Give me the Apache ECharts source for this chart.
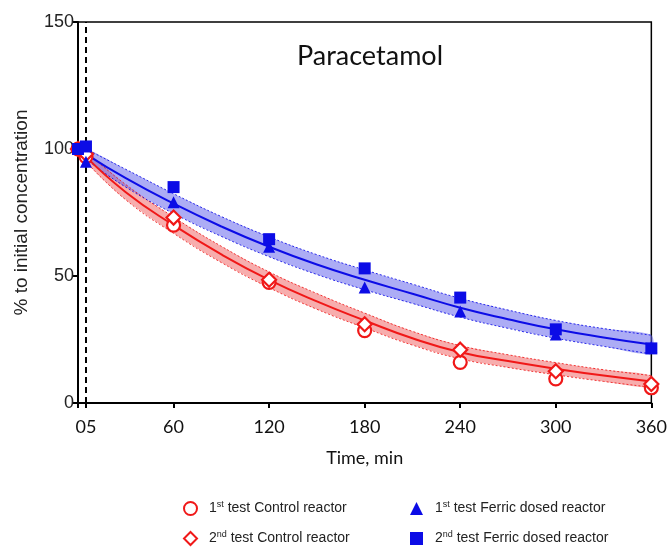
<!DOCTYPE html>
<html>
<head>
<meta charset="utf-8">
<script src="https://cdn.jsdelivr.net/npm/echarts@6/dist/echarts.min.js"></script>
<style>
  html, body { margin: 0; padding: 0; background: #fff; }
  #chart { width: 670px; height: 549px; }
</style>
</head>
<body>
<div id="chart"></div>
<script>
// measured points (% of initial concentration)
const times = [0, 5, 60, 120, 180, 240, 300, 360]
const control1 = [100, 97, 70, 47.5, 28.5, 16, 9.5, 6]
const control2 = [100, 98, 73, 48.5, 31, 21, 12.5, 7.5]
const ferric1 = [100, 95, 79, 61.5, 45.5, 36, 27, 22]
const ferric2 = [100, 101, 85, 64.5, 53, 41.5, 29, 21.5]

// fitted curves and their confidence bands
const fitTimes = [5, 30, 60, 90, 120, 150, 180, 210, 240, 270, 300, 330, 360]
const controlFit = [97, 83, 70, 58.5, 48.5, 40, 32.5, 25.5, 20, 16.5, 13.5, 10.8, 8.5]
const controlLow = [95, 80, 66.8, 55.3, 45.4, 36.9, 29.6, 22.8, 17.4, 14, 11.1, 8.5, 6.2]
const controlHigh = [99, 86, 73.2, 61.7, 51.6, 43.1, 35.4, 28.2, 22.6, 19, 15.9, 13.1, 10.8]
const ferricFit = [98, 88.5, 78.5, 69.5, 61.5, 54.5, 48.5, 43, 37.5, 33, 29, 25.8, 23]
const ferricLow = [96, 85, 74.6, 65.6, 57.6, 50.6, 44.6, 39.2, 33.8, 29.4, 25.5, 22.3, 19.3]
const ferricHigh = [100, 92, 82.4, 73.4, 65.4, 58.4, 52.4, 46.8, 41.2, 36.6, 32.5, 29.3, 26.7]

const xTicks = [0, 5, 60, 120, 180, 240, 300, 360]
const seriesNames = ['1st test Control reactor', '2nd test Control reactor',
  '1st test Ferric dosed reactor', '2nd test Ferric dosed reactor']

const RED = '#f01818'
const BLUE = '#0c0ce6'

const pairs = (xs, ys) => xs.map((x, i) => [x, ys[i]])

// filled confidence band drawn as one polygon through the axis scales
function bandFill(low, high, fill) {
  return {
    type: 'custom', silent: true, z: 1,
    data: [[0]],
    renderItem: (params, api) => {
      const top = fitTimes.map((t, i) => api.coord([t, high[i]]))
      const bottom = fitTimes.map((t, i) => api.coord([t, low[i]])).reverse()
      return {
        type: 'polygon',
        shape: { points: top.concat(bottom), smooth: 0.25 },
        style: { fill: fill, stroke: null }
      }
    }
  }
}

function edgeLine(data, color) {
  return {
    type: 'line', smooth: true, symbol: 'none', silent: true, z: 2,
    data: pairs(fitTimes, data),
    lineStyle: { color: color, width: 1, type: [2, 2], opacity: 0.85 }
  }
}

function fitSeries(data, color) {
  return {
    type: 'line', smooth: true, symbol: 'none', silent: true, z: 3,
    data: pairs(fitTimes, data), lineStyle: { color: color, width: 2 }
  }
}

function pointSeries(name, data, symbol, size, hollow, color) {
  return {
    name: name, type: 'scatter', symbol: symbol, symbolSize: size,
    data: pairs(times, data), z: 5,
    itemStyle: hollow
      ? { color: '#fff', borderColor: color, borderWidth: 2.2, opacity: 1 }
      : { color: color, opacity: 1 }
  }
}

const legendText = {
  fontFamily: 'Liberation Sans, Arial', fontSize: 14, color: '#222',
  lineHeight: 17, padding: [0, 0, 0, 7],
  rich: {
    sup: { fontSize: 9, lineHeight: 17, padding: [0, 0, 8, 0], fontFamily: 'Liberation Sans, Arial' }
  }
}
const legendFormatter = (name) => name.replace(/^(\d)(st|nd)/, '$1{sup|$2}')

const chart = echarts.init(document.getElementById('chart'))

chart.setOption({
  animation: false,
  backgroundColor: '#fff',
  title: {
    text: 'Paracetamol',
    left: 365, top: 38, textAlign: 'center',
    textStyle: { fontFamily: 'Lato', fontWeight: 'normal', fontSize: 27, color: '#111' }
  },
  grid: {
    left: 78, right: 18, top: 22, bottom: 146,
    show: true, borderColor: '#000', borderWidth: 1.5, backgroundColor: 'transparent'
  },
  legend: [
    {
      data: [seriesNames[0], seriesNames[1]],
      orient: 'vertical', left: 178, top: 495, height: 80, itemGap: 13,
      itemWidth: 13, itemHeight: 13, formatter: legendFormatter, textStyle: legendText
    },
    {
      data: [seriesNames[2], seriesNames[3]],
      orient: 'vertical', left: 405, top: 495, height: 80, itemGap: 13,
      itemWidth: 13, itemHeight: 13, formatter: legendFormatter, textStyle: legendText
    }
  ],
  xAxis: {
    type: 'value', min: 0, max: 360,
    name: 'Time, min', nameLocation: 'middle', nameGap: 46,
    nameTextStyle: { fontFamily: 'Lato', fontSize: 18, color: '#111' },
    axisLine: { onZero: false, lineStyle: { color: '#000', width: 2 } },
    axisTick: { customValues: xTicks, length: 5, lineStyle: { color: '#000', width: 2 } },
    axisLabel: {
      customValues: xTicks, margin: 15,
      fontFamily: 'Lato', fontSize: 18, color: '#111',
      // the 0 and 5 labels sit together and read as "05"
      formatter: (v) => (v === 0 ? '' : v === 5 ? '05' : String(v))
    },
    splitLine: { show: false }
  },
  yAxis: {
    type: 'value', min: 0, max: 150, interval: 50,
    name: '% to initial concentration', nameLocation: 'middle', nameGap: 47,
    nameTextStyle: { fontFamily: 'Liberation Sans, Arial', fontSize: 19, color: '#222' },
    axisLine: { show: true, lineStyle: { color: '#000', width: 2 } },
    axisTick: { show: true, length: 5, lineStyle: { color: '#000', width: 2 } },
    axisLabel: { fontFamily: 'Liberation Sans, Arial', fontSize: 18, color: '#222', margin: 4 },
    splitLine: { show: false }
  },
  series: [
    bandFill(controlLow, controlHigh, 'rgba(240,105,105,0.55)'),
    bandFill(ferricLow, ferricHigh, 'rgba(95,95,235,0.52)'),
    edgeLine(controlLow, RED),
    edgeLine(controlHigh, RED),
    edgeLine(ferricLow, BLUE),
    edgeLine(ferricHigh, BLUE),
    fitSeries(controlFit, RED),
    {
      ...fitSeries(ferricFit, BLUE),
      markLine: {
        silent: true, symbol: 'none', label: { show: false },
        lineStyle: { color: '#000', type: [6, 4], width: 2 },
        data: [{ xAxis: 5 }]
      }
    },
    pointSeries(seriesNames[0], control1, 'circle', 13, true, RED),
    pointSeries(seriesNames[1], control2, 'diamond', 14, true, RED),
    pointSeries(seriesNames[2], ferric1, 'triangle', 12, false, BLUE),
    pointSeries(seriesNames[3], ferric2, 'rect', 12, false, BLUE)
  ]
})
</script>
</body>
</html>
